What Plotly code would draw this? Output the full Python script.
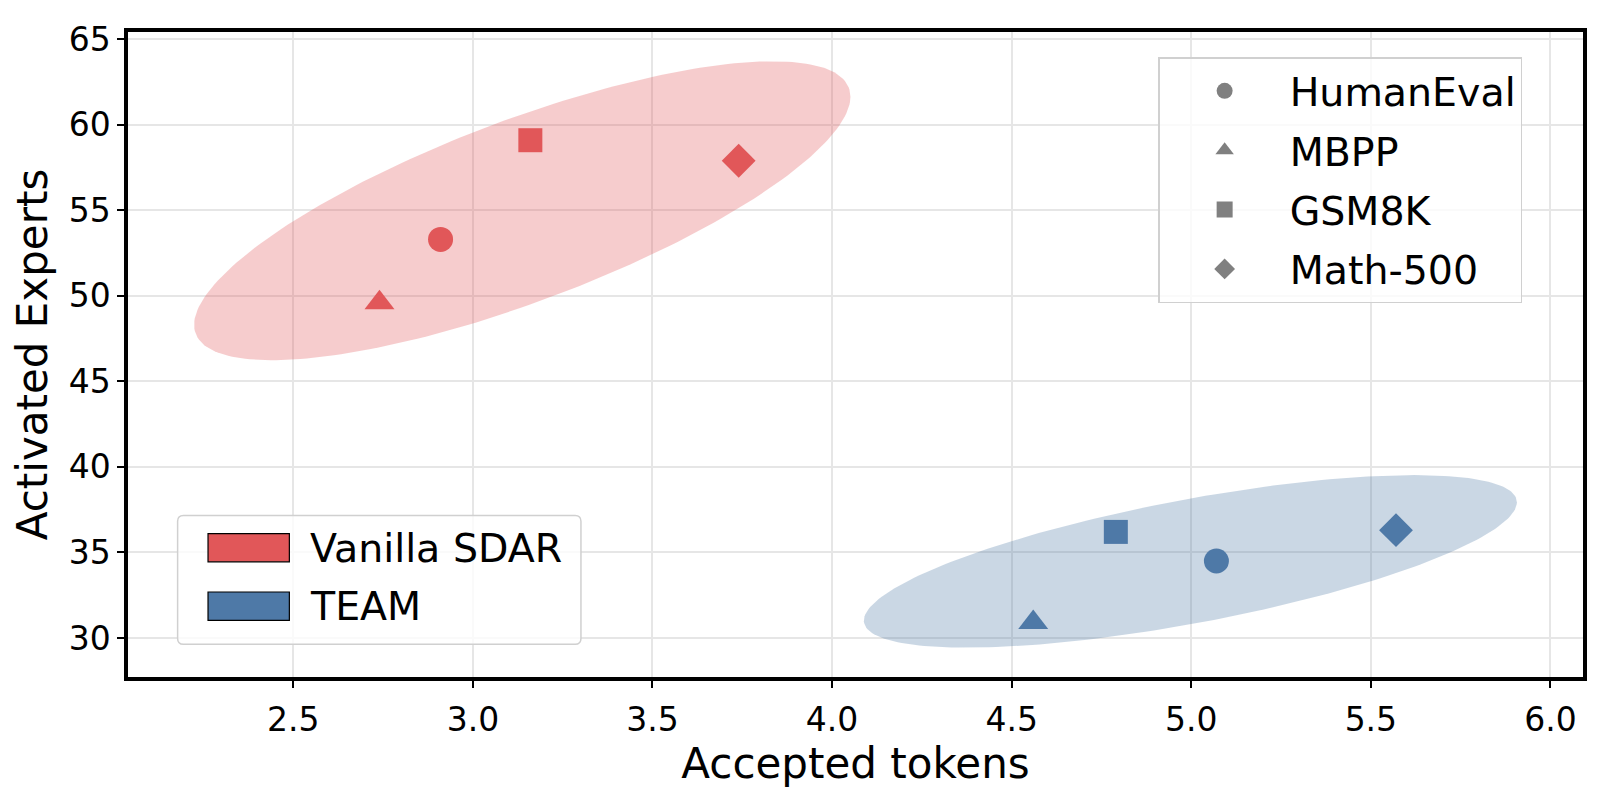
import numpy as np
import plotly.graph_objects as go

# accepted tokens vs activated experts, one point per benchmark
datasets = ["HumanEval", "MBPP", "GSM8K", "Math-500"]
methods = ["Vanilla SDAR", "TEAM"]
sdar_tokens = [2.91, 2.74, 3.16, 3.74]
sdar_experts = [53.3, 49.6, 59.1, 57.9]
team_tokens = [5.07, 4.56, 4.79, 5.57]
team_experts = [34.5, 30.9, 36.2, 36.3]
x_ticks = [2.5, 3.0, 3.5, 4.0, 4.5, 5.0, 5.5, 6.0]
y_ticks = [30, 35, 40, 45, 50, 55, 60, 65]

RED = "#E15759"
BLUE = "#4E79A7"
FONT = "DejaVu Sans"
symbols = {"HumanEval": "circle", "MBPP": "triangle-up", "GSM8K": "square", "Math-500": "diamond"}
sizes = {"circle": 25, "triangle-up": 26, "square": 24, "diamond": 26}


def rgba(hex_color, a):
    h = hex_color.lstrip("#")
    return "rgba(%d,%d,%d,%s)" % (int(h[0:2], 16), int(h[2:4], 16), int(h[4:6], 16), a)


def ellipse(xs, ys, n_std=2.0, x_stretch=1.045, n=240):
    # covariance ellipse around the points of one method
    xs, ys = np.asarray(xs), np.asarray(ys)
    L = np.linalg.cholesky(np.cov(xs, ys))
    t = np.linspace(0, 2 * np.pi, n)
    pts = n_std * L @ np.vstack([np.cos(t), np.sin(t)])
    return xs.mean() + x_stretch * pts[0], ys.mean() + pts[1]


def rounded_box(x0, y0, x1, y1, rx, ry):
    return (f"M{x0 + rx},{y0} L{x1 - rx},{y0} Q{x1},{y0} {x1},{y0 + ry} "
            f"L{x1},{y1 - ry} Q{x1},{y1} {x1 - rx},{y1} L{x0 + rx},{y1} "
            f"Q{x0},{y1} {x0},{y1 - ry} L{x0},{y0 + ry} Q{x0},{y0} {x0 + rx},{y0} Z")


groups = [
    (methods[0], sdar_tokens, sdar_experts, RED),
    (methods[1], team_tokens, team_experts, BLUE),
]

fig = go.Figure()
all_ex, all_ey = [], []
for name, xs, ys, col in groups:
    ex, ey = ellipse(xs, ys)
    all_ex.extend(ex)
    all_ey.extend(ey)
    fig.add_trace(go.Scatter(x=ex, y=ey, mode="lines", fill="toself",
                             fillcolor=rgba(col, 0.3), line=dict(width=0),
                             hoverinfo="skip", showlegend=False))

for name, xs, ys, col in groups:
    syms = [symbols[d] for d in datasets]
    fig.add_trace(go.Scatter(x=xs, y=ys, mode="markers", name=name, text=datasets,
                             marker=dict(symbol=syms, size=[sizes[s] for s in syms],
                                         color=col, opacity=1, line=dict(width=0)),
                             showlegend=False))

# gray markers for the benchmark legend
for d in datasets:
    fig.add_trace(go.Scatter(x=[None], y=[None], mode="markers", name=d, legendgroup=d,
                             marker=dict(symbol=symbols[d], size=20, color="#808080")))

# matplotlib-like 5% margins around the ellipses
xmin, xmax = min(all_ex), max(all_ex)
ymin, ymax = min(all_ey), max(all_ey)
xpad, ypad = 0.05 * (xmax - xmin), 0.05 * (ymax - ymin)

axis_common = dict(
    showline=True, linewidth=3.5, linecolor="black", mirror=True,
    ticks="outside", ticklen=7, tickwidth=2, tickcolor="black",
    showgrid=True, gridcolor="#e6e6e6", gridwidth=1.5, zeroline=False,
    tickfont=dict(family=FONT, size=33, color="black"),
)
fig.update_xaxes(range=[xmin - xpad, xmax + xpad], tickvals=x_ticks, tickformat=".1f",
                 ticklabelstandoff=4,
                 title=dict(text="Accepted tokens", font=dict(family=FONT, size=42, color="black"),
                            standoff=10),
                 **axis_common)
fig.update_yaxes(range=[ymin - ypad, ymax + ypad], tickvals=y_ticks,
                 title=dict(text="Activated Experts", font=dict(family=FONT, size=42, color="black"),
                            standoff=12),
                 **axis_common)

# method legend (patches) drawn in paper coordinates
fig.add_shape(type="path", xref="paper", yref="paper",
              path=rounded_box(0.0341, 0.0508, 0.3113, 0.2504, 0.004, 0.009),
              fillcolor="rgba(255,255,255,0.8)", line=dict(color="#d0d0d0", width=1.5))
patch_rows = [(0.1786, 0.2223, 0.2005), (0.0879, 0.1318, 0.1099)]
for (name, _, _, col), (py0, py1, ty) in zip(groups, patch_rows):
    fig.add_shape(type="rect", xref="paper", yref="paper", x0=0.0550, x1=0.1109,
                  y0=py0, y1=py1, fillcolor=col, line=dict(color="black", width=1.2))
    fig.add_annotation(x=0.1234, y=ty, xref="paper", yref="paper", text=name,
                       showarrow=False, xanchor="left", yanchor="middle",
                       font=dict(family=FONT, size=39.5, color="black"))

# the page body adds an 8px margin, so the figure is 8px smaller on each axis
fig.update_layout(
    width=1592, height=787,
    margin=dict(l=120, r=17, t=14, b=118),
    plot_bgcolor="white", paper_bgcolor="white",
    font=dict(family=FONT, color="black"),
    legend=dict(x=0.708, y=0.961, xanchor="left", yanchor="top",
                bgcolor="rgba(255,255,255,0.8)", bordercolor="#d0d0d0", borderwidth=1.5,
                font=dict(family=FONT, size=39.5, color="black"), itemwidth=120,
                tracegroupgap=5),
)

fig.write_html("out.html")
